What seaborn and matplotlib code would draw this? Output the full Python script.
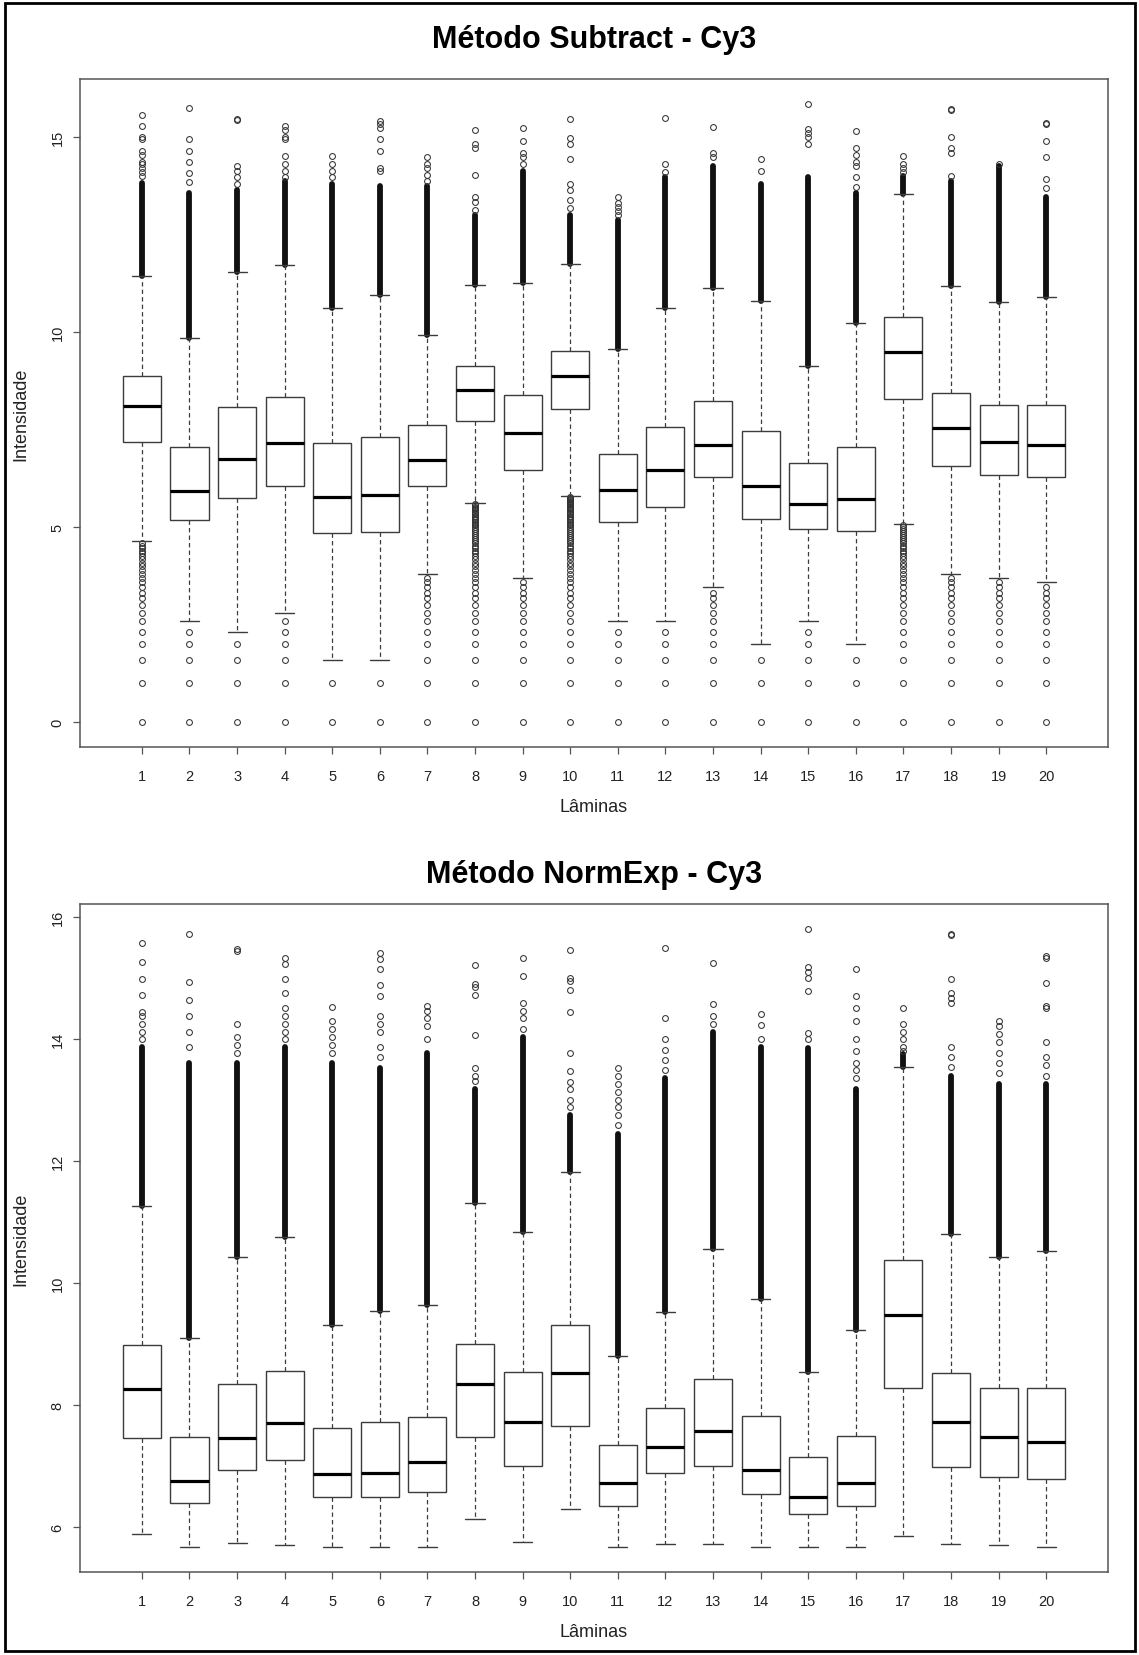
import matplotlib
matplotlib.use("Agg")
import numpy as np
import seaborn as sns
import matplotlib.pyplot as plt
from matplotlib.patches import Rectangle

# ---------------- data ----------------
LAMINAS = ["1", "2", "3", "4", "5", "6", "7", "8", "9", "10",
           "11", "12", "13", "14", "15", "16", "17", "18", "19", "20"]

# discrete low intensity levels seen as outliers (log2 of small counts)
LOW_LEVELS = [0.0, 1.0, 1.585, 2.0, 2.322, 2.585, 2.807, 3.0, 3.170, 3.322,
              3.459, 3.585, 3.700, 3.807, 3.907, 4.0, 4.087, 4.170, 4.248, 4.322,
              4.392, 4.459, 4.524, 4.585, 4.644, 4.700, 4.755, 4.807, 4.858, 4.907,
              4.954, 5.0, 5.044, 5.087, 5.129, 5.170, 5.209, 5.248, 5.285, 5.322,
              5.358, 5.392, 5.426, 5.459, 5.492, 5.524, 5.555, 5.585, 5.615, 5.644,
              5.672, 5.700, 5.728, 5.755, 5.781, 5.807]

# ---- Método Subtract - Cy3 ----
sub_q1 = [7.18, 5.18, 5.75, 6.05, 4.85, 4.86, 6.05, 7.71, 6.47, 8.03,
          5.14, 5.50, 6.27, 5.20, 4.95, 4.91, 8.27, 6.56, 6.33, 6.28]
sub_med = [8.10, 5.92, 6.75, 7.16, 5.77, 5.82, 6.72, 8.52, 7.42, 8.86,
           5.95, 6.47, 7.11, 6.05, 5.59, 5.73, 9.47, 7.53, 7.17, 7.09]
sub_q3 = [8.88, 7.04, 8.08, 8.33, 7.16, 7.30, 7.61, 9.12, 8.37, 9.52,
          6.88, 7.55, 8.22, 7.46, 6.64, 7.05, 10.38, 8.43, 8.12, 8.12]
sub_lo = [4.644, 2.585, 2.322, 2.807, 1.585, 1.585, 3.807, 5.615, 3.700, 5.807,
          2.585, 2.585, 3.459, 2.0, 2.585, 2.0, 5.087, 3.807, 3.700, 3.585]
sub_hi = [11.43, 9.85, 11.53, 11.70, 10.62, 10.94, 9.93, 11.21, 11.25, 11.73,
          9.55, 10.62, 11.12, 10.79, 9.13, 10.23, 13.53, 11.16, 10.77, 10.88]
sub_dense_top = [13.80, 13.56, 13.62, 13.85, 13.79, 13.73, 13.73, 12.99, 14.13, 12.99,
                 12.85, 13.96, 14.24, 13.79, 13.96, 13.56, 14.00, 13.85, 14.24, 13.45]
sub_sparse = [
    [14.0, 14.1, 14.2, 14.3, 14.36, 14.53, 14.64, 14.93, 15.0, 15.27, 15.56],
    [13.84, 14.07, 14.36, 14.64, 14.93, 15.73],
    [13.79, 13.96, 14.13, 14.24, 15.42, 15.46],
    [13.96, 14.13, 14.3, 14.5, 14.93, 14.99, 15.16, 15.27],
    [13.96, 14.13, 14.3, 14.5],
    [14.13, 14.2, 14.64, 14.93, 15.22, 15.33, 15.39],
    [13.85, 14.02, 14.19, 14.3, 14.47],
    [13.11, 13.33, 13.45, 14.02, 14.7, 14.81, 15.18],
    [14.3, 14.47, 14.59, 14.89, 15.21],
    [13.16, 13.38, 13.62, 13.79, 14.42, 14.81, 14.95, 15.44],
    [13.0, 13.1, 13.2, 13.3, 13.45],
    [14.1, 14.3, 15.48],
    [14.47, 14.59, 15.24],
    [14.13, 14.42],
    [14.81, 14.99, 15.1, 15.2, 15.84],
    [13.7, 13.96, 14.24, 14.36, 14.53, 14.7, 15.13],
    [14.1, 14.2, 14.3, 14.5],
    [14.0, 14.59, 14.7, 14.99, 15.67, 15.71],
    [14.3],
    [13.67, 13.92, 14.47, 14.89, 15.31, 15.34],
]

# ---- Método NormExp - Cy3 ----
ne_q1 = [7.46, 6.39, 6.94, 7.10, 6.49, 6.49, 6.58, 7.47, 7.01, 7.65,
         6.35, 6.88, 7.00, 6.54, 6.21, 6.35, 8.28, 6.98, 6.83, 6.79]
ne_med = [8.27, 6.75, 7.46, 7.70, 6.87, 6.88, 7.07, 8.35, 7.72, 8.52,
          6.72, 7.31, 7.57, 6.93, 6.50, 6.72, 9.47, 7.72, 7.47, 7.40]
ne_q3 = [8.98, 7.47, 8.34, 8.56, 7.63, 7.72, 7.81, 9.01, 8.55, 9.32,
         7.34, 7.95, 8.43, 7.82, 7.15, 7.50, 10.38, 8.52, 8.28, 8.28]
ne_lo = [5.89, 5.67, 5.74, 5.71, 5.68, 5.68, 5.67, 6.14, 5.76, 6.30,
         5.68, 5.72, 5.72, 5.68, 5.67, 5.68, 5.85, 5.72, 5.71, 5.68]
ne_hi = [11.27, 9.10, 10.43, 10.75, 9.31, 9.55, 9.64, 11.32, 10.84, 11.83,
         8.81, 9.52, 10.56, 9.74, 8.55, 9.23, 13.54, 10.80, 10.43, 10.53]
ne_dense_top = [13.87, 13.61, 13.61, 13.87, 13.61, 13.53, 13.78, 13.18, 14.04, 12.76,
                12.45, 13.36, 14.12, 13.87, 13.85, 13.18, 13.75, 13.40, 13.27, 13.27]
ne_sparse = [
    [14.0, 14.12, 14.25, 14.38, 14.45, 14.72, 14.98, 15.27, 15.57],
    [13.87, 14.12, 14.38, 14.64, 14.93, 15.73],
    [13.78, 13.9, 14.04, 14.25, 15.45, 15.47],
    [14.0, 14.12, 14.25, 14.38, 14.51, 14.76, 14.98, 15.23, 15.33],
    [13.78, 13.9, 14.04, 14.16, 14.29, 14.53],
    [13.7, 13.87, 14.12, 14.25, 14.38, 14.70, 14.89, 15.15, 15.32, 15.42],
    [14.0, 14.21, 14.34, 14.46, 14.55],
    [13.31, 13.4, 13.53, 14.06, 14.72, 14.85, 14.9, 15.21],
    [14.17, 14.34, 14.46, 14.59, 15.04, 15.33],
    [12.89, 13.01, 13.18, 13.3, 13.48, 13.78, 14.44, 14.81, 14.96, 15.0, 15.46],
    [12.6, 12.75, 12.88, 13.01, 13.14, 13.27, 13.40, 13.53],
    [13.5, 13.65, 13.82, 14.0, 14.34, 15.49],
    [14.25, 14.38, 14.57, 15.25],
    [14.0, 14.23, 14.42],
    [14.0, 14.1, 14.79, 15.0, 15.1, 15.19, 15.81],
    [13.36, 13.5, 13.61, 13.8, 14.0, 14.29, 14.51, 14.70, 15.15],
    [13.8, 13.87, 14.0, 14.12, 14.25, 14.51],
    [13.55, 13.70, 13.87, 14.59, 14.68, 14.76, 14.99, 15.70, 15.73],
    [13.45, 13.61, 13.78, 13.95, 14.08, 14.21, 14.29],
    [13.4, 13.57, 13.70, 13.95, 14.51, 14.55, 14.92, 15.33, 15.36],
]

SUB_YTICKS = [0, 5, 10, 15]
NE_YTICKS = [6, 8, 10, 12, 14, 16]

# ---------------- styling ----------------
sns.set_theme(style="white")
plt.rcParams['font.family'] = ['Liberation Sans', 'DejaVu Sans']

W, H = 1139, 1656
fig = plt.figure(figsize=(W / 100, H / 100), dpi=100)
fig.patch.set_facecolor("white")

LINE = "#3c3c3c"
FRAME = "#555555"


def panel(ax, q1, med, q3, lo, hi, dense_top, sparse, yticks, low_levels=None):
    pos = np.arange(1, len(LAMINAS) + 1)
    stats = [dict(q1=a, med=m, q3=b, whislo=l, whishi=h, label=lab)
             for a, m, b, l, h, lab in zip(q1, med, q3, lo, hi, LAMINAS)]

    # dense runs of outliers (drawn as solid columns)
    d_lo, d_hi, d_x = [], [], []
    for x, h, t in zip(pos, hi, dense_top):
        if t > h:
            d_x.append(x); d_lo.append(h); d_hi.append(t)
    ax.vlines(d_x, d_lo, d_hi, colors="#111111", lw=4.2, capstyle="round", zorder=2)

    # individual outliers
    all_vals = []
    for x, s in zip(pos, sparse):
        ax.plot([x] * len(s), s, ls="none", marker="o", ms=4.2, mfc="none",
                mec="#333333", mew=0.75, zorder=3)
        all_vals += list(s)
    if low_levels is not None:
        for x, l in zip(pos, lo):
            vals = [v for v in low_levels if v < l - 1e-6]
            ax.plot([x] * len(vals), vals, ls="none", marker="o", ms=4.2, mfc="none",
                    mec="#333333", mew=0.75, zorder=3)
            all_vals += vals

    ax.bxp(stats, positions=pos, widths=0.8, capwidths=0.4, showfliers=False,
           patch_artist=True,
           boxprops=dict(facecolor="white", edgecolor=LINE, lw=1.0),
           medianprops=dict(color="black", lw=2.3, solid_capstyle="butt"),
           whiskerprops=dict(color=LINE, lw=0.9, linestyle=(0, (3.5, 2.5))),
           capprops=dict(color=LINE, lw=1.0),
           zorder=4)

    all_vals += list(lo) + list(hi)
    vmin, vmax = min(all_vals), max(all_vals)
    rng = vmax - vmin
    ax.set_ylim(vmin - 0.04 * rng, vmax + 0.04 * rng)
    ax.set_xlim(0.5 - 0.04 * 20, 20.5 + 0.04 * 20)
    ax.set_xticks(pos)
    ax.set_xticklabels(LAMINAS)
    ax.set_yticks(yticks)
    ax.set_yticklabels([str(t) for t in yticks], rotation=90, va="center")

    for sp in ax.spines.values():
        sp.set_visible(True)
        sp.set_color(FRAME)
        sp.set_linewidth(1.1)
    ax.tick_params(axis="both", direction="out", length=5, width=0.9,
                   color=FRAME, labelcolor="#222222", labelsize=10.5)
    ax.tick_params(axis="x", pad=11, bottom=True)
    ax.tick_params(axis="y", pad=6, left=True)
    ax.set_xlabel("Lâminas", fontsize=13, color="#222222")
    ax.set_ylabel("Intensidade", fontsize=13, color="#222222")
    ax.xaxis.set_label_coords(0.5, -0.077)
    ax.yaxis.set_label_coords(-0.049, 0.5)
    ax.grid(False)
    ax.set_facecolor("white")


ax_top = fig.add_axes([80 / W, (H - 748) / H, 1028 / W, 668 / H])
ax_bot = fig.add_axes([80 / W, (H - 1573) / H, 1028 / W, 668 / H])

panel(ax_top, sub_q1, sub_med, sub_q3, sub_lo, sub_hi, sub_dense_top, sub_sparse,
      SUB_YTICKS, low_levels=LOW_LEVELS)
panel(ax_bot, ne_q1, ne_med, ne_q3, ne_lo, ne_hi, ne_dense_top, ne_sparse, NE_YTICKS)

cx = (80 + 1028 / 2) / W
fig.text(cx, 1 - 40 / H, "Método Subtract - Cy3", ha="center", va="center",
         fontsize=22, fontweight="bold", color="black")
fig.text(cx, 1 - 875 / H, "Método NormExp - Cy3", ha="center", va="center",
         fontsize=22, fontweight="bold", color="black")

# outer frame of the picture
fig.add_artist(Rectangle((5 / W, 4 / H), (1135 - 5) / W, (1652 - 4) / H,
                         transform=fig.transFigure, fill=False, lw=2.0,
                         ec="black", zorder=10))

fig.savefig("out.png", dpi=100, facecolor="white")
